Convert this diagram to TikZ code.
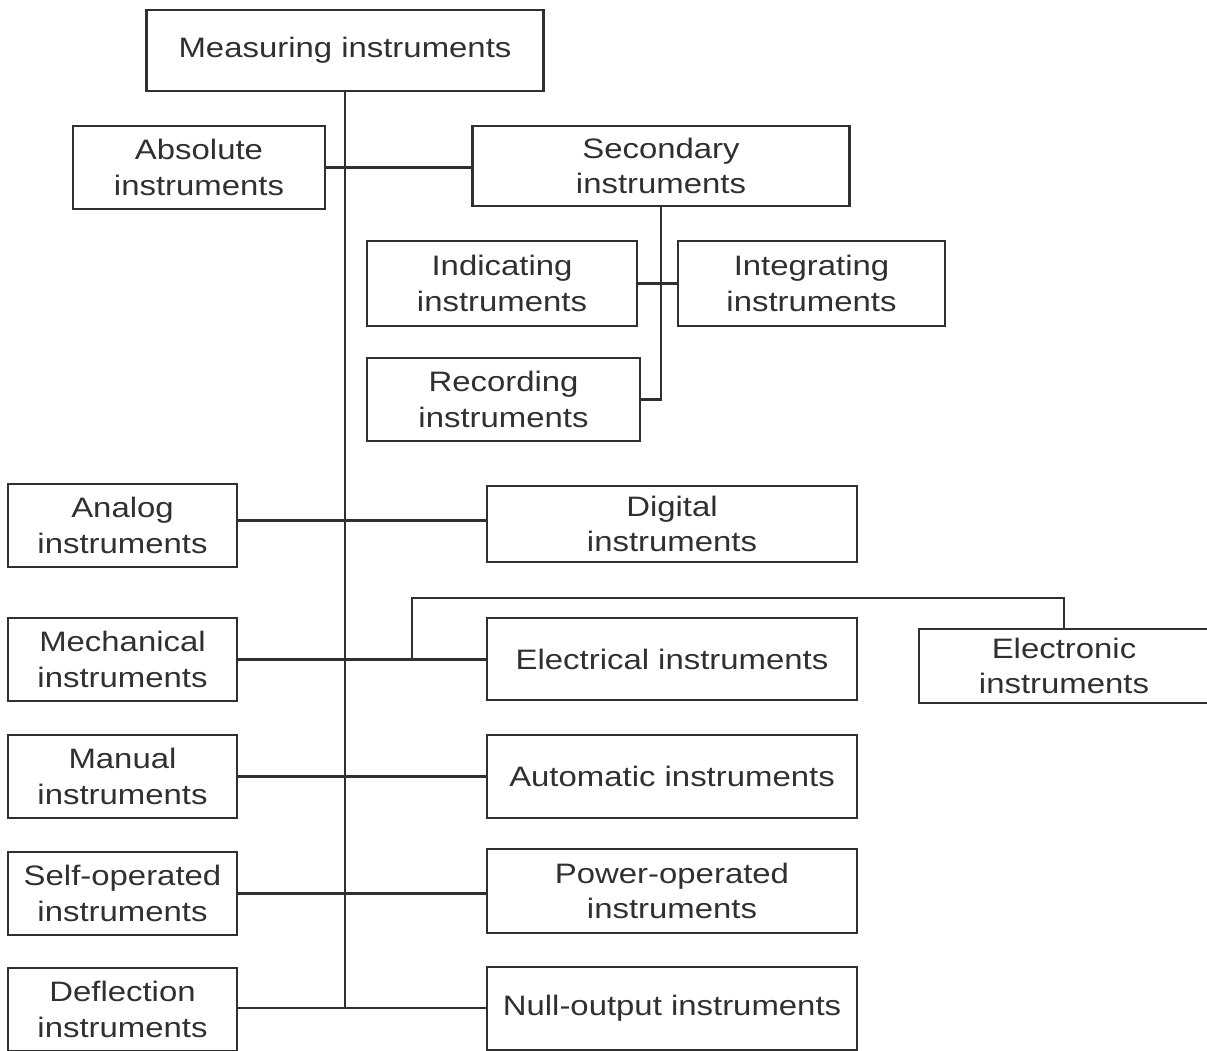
\documentclass[tikz,border=0pt]{standalone}
\usepackage{fontspec}
\setmainfont{Liberation Sans}[FakeStretch=1.17]
\definecolor{ink}{HTML}{303030}

\begin{document}
\begin{tikzpicture}[x=0.025cm,y=-0.025cm,
	box/.style={draw=ink,line width=1.7pt,inner sep=0,outer sep=0,align=center,text=ink,font=\fontsize{20pt}{25pt}\selectfont},
	wh/.style 2 args={minimum width=#1*0.025cm,minimum height=#2*0.025cm},
	link/.style={draw=ink,line width=1.5pt}]
	\clip (0,0) rectangle (1207,1050);
	\node[box,wh={397}{81}] (meas) at (345,50.5) {Measuring instruments};
	\node[box,wh={252}{83}] (abs) at (199,167.5) {Absolute\\instruments};
	\node[box,wh={377}{80}] (sec) at (661,166) {Secondary\\instruments};
	\node[box,wh={270}{85}] (ind) at (502,283.5) {Indicating\\instruments};
	\node[box,wh={267}{85}] (integ) at (811.5,283.5) {Integrating\\instruments};
	\node[box,wh={273}{83}] (rec) at (503.5,399.5) {Recording\\instruments};
	\node[box,wh={229}{83}] (ana) at (122.5,525.5) {Analog\\instruments};
	\node[box,wh={370}{76}] (dig) at (672,524) {Digital\\instruments};
	\node[box,wh={229}{83}] (mech) at (122.5,659.5) {Mechanical\\instruments};
	\node[box,wh={370}{82}] (elec) at (672,659) {Electrical instruments};
	\node[box,wh={290}{74}] (elon) at (1064,666) {Electronic\\instruments};
	\node[box,wh={229}{83}] (man) at (122.5,776.5) {Manual\\instruments};
	\node[box,wh={370}{83}] (auto) at (672,776.5) {Automatic instruments};
	\node[box,wh={229}{83}] (self) at (122.5,893.5) {Self-operated\\instruments};
	\node[box,wh={370}{84}] (pow) at (672,891) {Power-operated\\instruments};
	\node[box,wh={229}{83}] (defl) at (122.5,1009.5) {Deflection\\instruments};
	\node[box,wh={370}{83}] (null) at (672,1008.5) {Null-output instruments};
	\coordinate (tend) at (345,1008);
	\coordinate (brk) at (412,659);
	\draw[link] (meas.south) -- (tend);
	\draw[link] (abs.east) -- (abs.east -| sec.west);
	\draw[link] (sec.south) |- (rec.east);
	\draw[link] (ind.east) -- (integ.west);
	\draw[link] ([yshift=5*0.025cm]ana.east) -- ([yshift=5*0.025cm]ana.east -| dig.west);
	\draw[link] (mech.east) -- (mech.east -| elec.west);
	\draw[link] (brk) -- ++(0,-61) -| (elon.north);
	\draw[link] (man.east) -- (man.east -| auto.west);
	\draw[link] (self.east) -- (self.east -| pow.west);
	\draw[link] (defl.east |- tend) -- (tend -| null.west);
\end{tikzpicture}
\end{document}
